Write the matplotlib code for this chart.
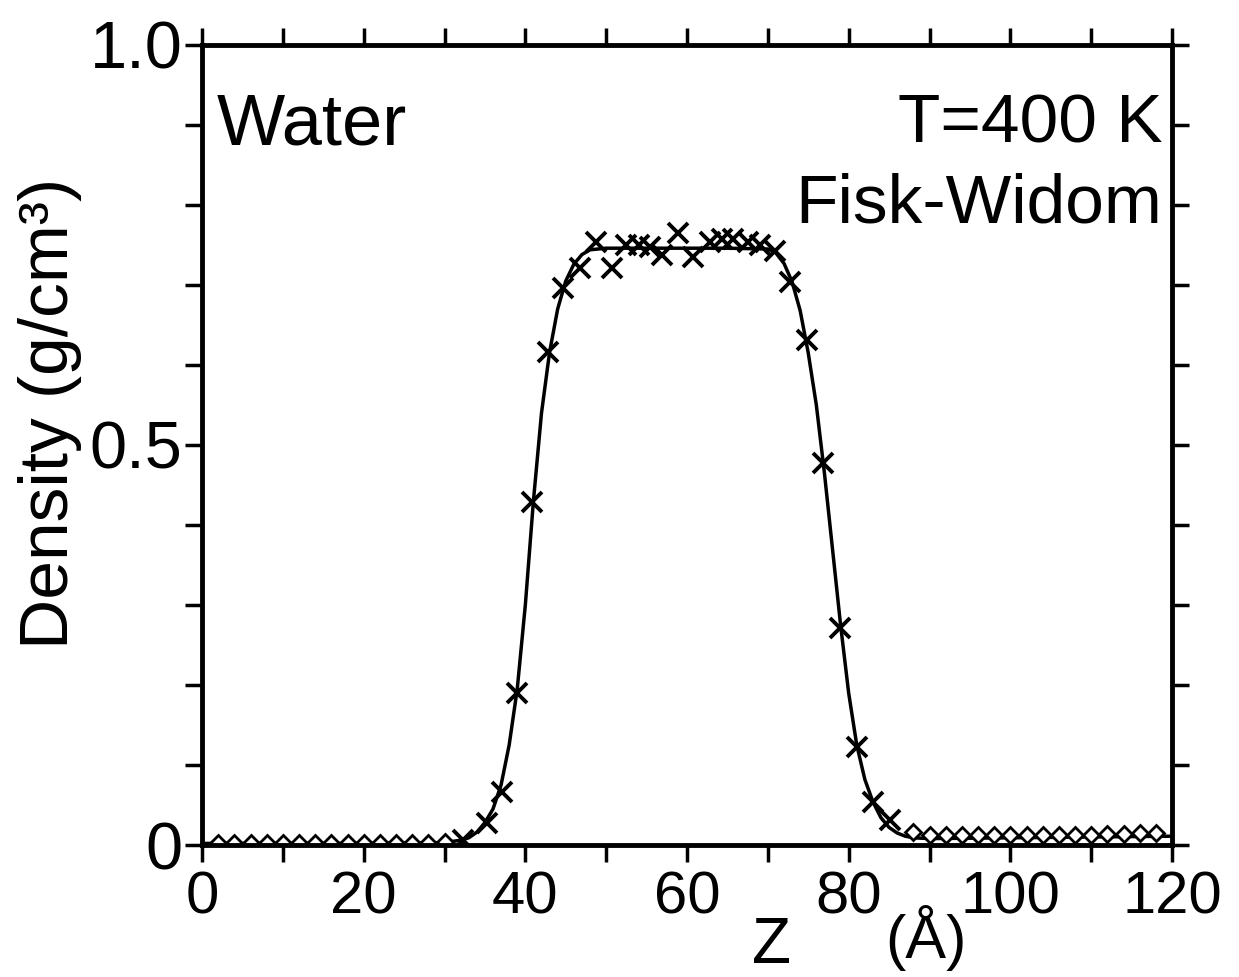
import numpy as np
import matplotlib.pyplot as plt

plt.rcParams['font.family'] = ['Liberation Sans', 'DejaVu Sans']

# solid curve
z_line = [0, 10, 20, 30, 32, 33, 34, 35, 36, 37, 38, 39, 40, 41, 42, 43, 44, 45, 46,
          47, 48, 50, 55, 60, 65, 70, 71, 72, 73, 74, 75, 76, 77, 78, 79, 80, 81,
          82, 83, 84, 85, 86, 87, 88, 90, 100, 110, 120]
rho_line = [0.002, 0.002, 0.002, 0.003, 0.006, 0.009, 0.016, 0.028, 0.045, 0.075,
            0.125, 0.195, 0.300, 0.430, 0.540, 0.616, 0.670, 0.705, 0.726, 0.738,
            0.744, 0.746, 0.746, 0.746, 0.746, 0.745, 0.740, 0.727, 0.704, 0.668,
            0.615, 0.550, 0.465, 0.370, 0.275, 0.190, 0.125, 0.082, 0.054, 0.034,
            0.022, 0.015, 0.011, 0.009, 0.008, 0.009, 0.010, 0.011]

# diamonds (vapour side)
z_dia = [2, 4, 6, 8, 10, 12, 14, 16, 18, 20, 22, 24, 26, 28, 30,
         88, 90, 92, 94, 96, 98, 100, 102, 104, 106, 108, 110, 112, 114, 116, 118]
rho_dia = [0.003, 0.003, 0.003, 0.003, 0.003, 0.003, 0.003, 0.003, 0.003, 0.003,
           0.003, 0.003, 0.003, 0.003, 0.004,
           0.016, 0.012, 0.012, 0.012, 0.012, 0.012, 0.012, 0.012, 0.012, 0.012,
           0.013, 0.013, 0.014, 0.014, 0.015, 0.015]

# crosses
z_x = [32.3, 35.2, 37.1, 39.0, 40.8, 42.8, 44.7, 46.8, 48.8, 50.7, 52.5, 54.0, 55.4,
       56.9, 58.9, 60.8, 62.8, 64.3, 65.7, 67.6, 69.0, 70.9, 72.7, 74.8, 76.8,
       78.9, 81.0, 83.0, 85.1]
rho_x = [0.006, 0.028, 0.066, 0.190, 0.429, 0.616, 0.696, 0.721, 0.754, 0.721,
         0.750, 0.750, 0.748, 0.737, 0.765, 0.735, 0.754, 0.758, 0.758, 0.754,
         0.750, 0.742, 0.704, 0.631, 0.477, 0.271, 0.123, 0.054, 0.031]

xticks = [0, 10, 20, 30, 40, 50, 60, 70, 80, 90, 100, 110, 120]
xticklabels = ['0', '', '20', '', '40', '', '60', '', '80', '', '100', '', '120']
yticks = [0, 0.1, 0.2, 0.3, 0.4, 0.5, 0.6, 0.7, 0.8, 0.9, 1.0]
yticklabels = ['0', '', '', '', '', '0.5', '', '', '', '', '1.0']

fig = plt.figure(figsize=(12.39, 9.77), dpi=100)
ax = fig.add_axes([202 / 1239, 1 - 845 / 977, 970 / 1239, 800 / 977])

ax.plot(z_line, rho_line, color='black', linewidth=2.5)
ax.plot(z_dia, rho_dia, linestyle='none', marker='D', markersize=8.5,
        markerfacecolor='white', markeredgecolor='black', markeredgewidth=2)
ax.plot(z_x, rho_x, linestyle='none', marker='x', markersize=14,
        markeredgecolor='black', markeredgewidth=2.8)

ax.set_xlim(0, 120)
ax.set_ylim(0, 1.0)
ax.set_xticks(xticks)
ax.set_xticklabels(xticklabels)
ax.set_yticks(yticks)
ax.set_yticklabels(yticklabels)
ax.tick_params(direction='out', length=12, width=2.5, pad=4,
               top=True, right=True)
ax.tick_params(axis='x', labelsize=43, pad=6)
ax.tick_params(axis='y', labelsize=48, pad=2)
for sp in ax.spines.values():
    sp.set_linewidth(3.5)

# text inside the frame
ax.text(0.015, 0.94, 'Water', transform=ax.transAxes, fontsize=52,
        ha='left', va='top')
ax.text(0.99, 0.94, 'T=400 K', transform=ax.transAxes, fontsize=50,
        ha='right', va='top')
ax.text(0.99, 0.84, 'Fisk-Widom', transform=ax.transAxes, fontsize=50,
        ha='right', va='top')

# axis labels placed like the original
fig.text(50 / 1239, 1 - 413 / 977, 'Density (g/cm³)', rotation=90,
         fontsize=50, ha='center', va='center')
fig.text(772 / 1239, 1 - 946 / 977, 'Z', fontsize=46, ha='center', va='center')
fig.text(926 / 1239, 1 - 938 / 977, '(Å)', fontsize=44, ha='center', va='center')

plt.savefig('out.png', dpi=100)
